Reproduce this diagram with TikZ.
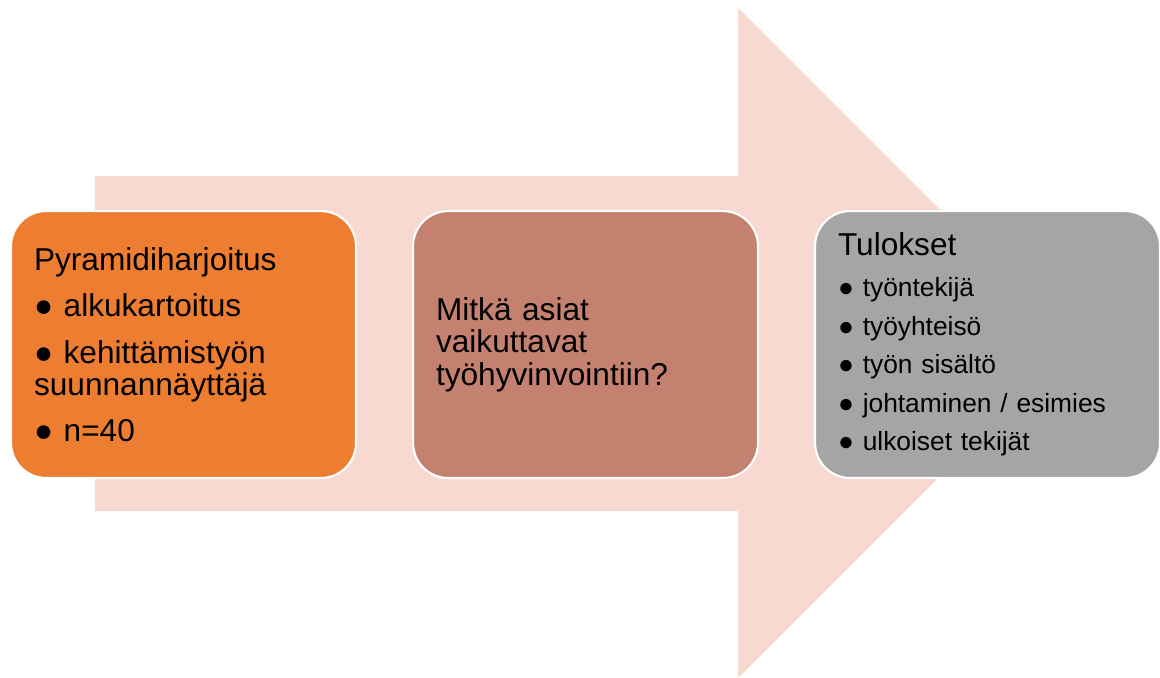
\documentclass[tikz,border=0pt]{standalone}
\usepackage{fontspec}
\setmainfont{Liberation Sans}
\usetikzlibrary{positioning}
\definecolor{arrowpink}{HTML}{F7D9CF}
\definecolor{stageorange}{HTML}{ED7D31}
\definecolor{stagebrown}{HTML}{C4816F}
\definecolor{stagegrey}{HTML}{A5A5A5}
\begin{document}
\begin{tikzpicture}
  [x=0.02cm,y=-0.02cm,
   stage/.style={rectangle,rounded corners=20pt,draw=white,line width=1.2pt,
     minimum width=6.9cm,minimum height=5.34cm,text width=5.98cm,
     inner xsep=0.46cm,align=left,anchor=north west,text=black}]
\useasboundingbox (0,0) rectangle (1160,677); % adjust bounding box
% big arrow in the background
\fill[arrowpink] (95,176) -- (738,176) -- (738,8) -- (1073,343)
  -- (738,678) -- (738,511) -- (95,511) -- cycle;
%
\node at (10,210) (start) [stage, fill=stageorange,
  font=\fontsize{18}{18.2}\selectfont]
  {Pyramidiharjoitus\\[8.2pt]
   ● alkukartoitus\\[8.2pt]
   ● kehittämistyön\\
   suunnannäyttäjä\\[8.2pt]
   ● n=40};
\node at (412,210) (question) [stage, fill=stagebrown,
  font=\fontsize{18}{18.5}\selectfont]
  {Mitkä asiat\\ vaikuttavat\\ työhyvinvointiin?};
\node at (814,210) (results) [stage, fill=stagegrey,
  font=\fontsize{15}{21.9}\selectfont]
  {{\fontsize{18}{21.9}\selectfont Tulokset}\\[1.4pt]
   ● työntekijä\\
   ● työyhteisö\\
   ● työn sisältö\\
   ● johtaminen / esimies\\
   ● ulkoiset tekijät};
\end{tikzpicture}
\end{document}
